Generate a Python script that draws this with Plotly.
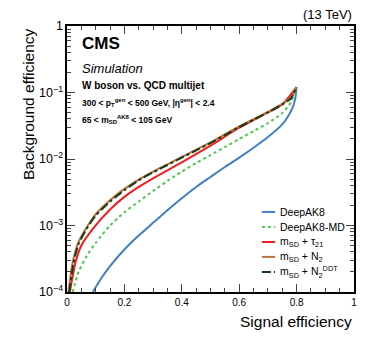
import plotly.graph_objects as go

# signal efficiency / background efficiency
deepak8_x = [0.09, 0.12, 0.15, 0.2, 0.25, 0.3, 0.35, 0.4, 0.45, 0.5, 0.55, 0.6, 0.65, 0.7, 0.75, 0.77, 0.785,
             0.795, 0.8]
deepak8_y = [1.0e-4, 1.622e-4, 2.455e-4, 4.365e-4, 7.079e-4, 1.096e-3, 1.698e-3, 2.570e-3, 3.802e-3, 5.370e-3,
             7.586e-3, 1.047e-2, 1.479e-2, 2.138e-2, 3.311e-2, 4.365e-2, 5.754e-2, 7.943e-2, 0.1202]

deepak8md_x = [0.02, 0.04, 0.07, 0.1, 0.15, 0.2, 0.25, 0.3, 0.35, 0.4, 0.45, 0.5, 0.55, 0.6, 0.65, 0.7, 0.75,
               0.78, 0.8]
deepak8md_y = [1.0e-4, 1.995e-4, 3.548e-4, 5.495e-4, 1.0e-3, 1.585e-3, 2.291e-3, 3.311e-3, 4.677e-3, 6.457e-3,
               8.710e-3, 1.148e-2, 1.514e-2, 1.995e-2, 2.630e-2, 3.467e-2, 4.898e-2, 7.079e-2, 0.1202]

tau21_x = [0.01, 0.03, 0.05, 0.09, 0.15, 0.2, 0.25, 0.3, 0.35, 0.4, 0.5, 0.6, 0.7, 0.75, 0.8]
tau21_y = [1.0e-4, 2.818e-4, 5.012e-4, 8.913e-4, 1.738e-3, 2.692e-3, 3.802e-3, 5.129e-3, 6.761e-3, 8.913e-3,
           1.585e-2, 2.951e-2, 5.012e-2, 6.607e-2, 0.1202]

n2_x = [0.005, 0.02, 0.04, 0.07, 0.1, 0.15, 0.2, 0.25, 0.3, 0.35, 0.4, 0.45, 0.5, 0.55, 0.6, 0.65, 0.7, 0.75,
        0.78, 0.8]
n2_y = [1.0e-4, 2.818e-4, 5.623e-4, 9.550e-4, 1.479e-3, 2.399e-3, 3.548e-3, 4.898e-3, 6.457e-3, 8.318e-3,
        1.072e-2, 1.380e-2, 1.778e-2, 2.344e-2, 3.090e-2, 3.981e-2, 5.129e-2, 6.761e-2, 8.318e-2, 0.1202]

n2ddt_x = [0.008, 0.022, 0.04, 0.07, 0.1, 0.15, 0.2, 0.25, 0.3, 0.35, 0.4, 0.45, 0.5, 0.55, 0.6, 0.65, 0.7,
           0.75, 0.78, 0.8]
n2ddt_y = [1.0e-4, 2.630e-4, 5.248e-4, 9.120e-4, 1.413e-3, 2.291e-3, 3.388e-3, 4.786e-3, 6.310e-3, 8.128e-3,
           1.047e-2, 1.349e-2, 1.738e-2, 2.291e-2, 3.020e-2, 3.890e-2, 5.012e-2, 6.607e-2, 8.128e-2, 0.1202]

labels = ["DeepAK8", "DeepAK8-MD", "m<sub>SD</sub> + τ<sub>21</sub>", "m<sub>SD</sub> + N<sub>2</sub>",
          "m<sub>SD</sub> + N<sub>2</sub><sup>DDT</sup>"]
colors = ["#3d80c3", "#4cc84c", "#f01e1e", "#b8703c", "#173d17"]
dashes = ["solid", "dot", "solid", "solid", "dashdot"]

FONT = "Liberation Sans, Arial, sans-serif"

fig = go.Figure()
series = [(deepak8_x, deepak8_y), (deepak8md_x, deepak8md_y), (tau21_x, tau21_y), (n2_x, n2_y), (n2ddt_x, n2ddt_y)]
for (xs, ys), name, c, d in zip(series, labels, colors, dashes):
    fig.add_trace(go.Scatter(x=xs, y=ys, mode='lines', name=name, showlegend=False,
                             line=dict(color=c, dash=d, width=2, shape='spline', smoothing=0.6)))

# legend drawn by hand (short line samples like ROOT)
leg_y = [0.301, 0.244, 0.188, 0.132, 0.075]
for ly, name, c, d in zip(leg_y, labels, colors, dashes):
    fig.add_shape(type='line', xref='paper', yref='paper', x0=0.679, x1=0.725, y0=ly, y1=ly,
                  line=dict(color=c, dash=d, width=2))
    fig.add_annotation(xref='paper', yref='paper', x=0.735, y=ly, text=name, showarrow=False,
                       xanchor='left', yanchor='middle', font=dict(size=10.5, color='black', family=FONT))

# CMS labels
fig.add_annotation(xref='paper', yref='paper', x=0.045, y=0.935, text="<b>CMS</b>", showarrow=False,
                   xanchor='left', yanchor='middle', font=dict(size=17, color='black', family=FONT))
fig.add_annotation(xref='paper', yref='paper', x=0.045, y=0.842, text="<i>Simulation</i>", showarrow=False,
                   xanchor='left', yanchor='middle', font=dict(size=13, color='black', family=FONT))
fig.add_annotation(xref='paper', yref='paper', x=0.045, y=0.778, text="<b>W boson vs. QCD multijet</b>",
                   showarrow=False, xanchor='left', yanchor='middle', font=dict(size=10, color='black', family=FONT))
fig.add_annotation(xref='paper', yref='paper', x=0.045, y=0.712,
                   text="<b>300 < p<sub>T</sub><sup>gen</sup> < 500 GeV, |η<sup>gen</sup>| < 2.4</b>",
                   showarrow=False, xanchor='left', yanchor='middle', font=dict(size=8.5, color='black', family=FONT))
fig.add_annotation(xref='paper', yref='paper', x=0.045, y=0.648,
                   text="<b>65 < m<sub>SD</sub><sup>AK8</sup> < 105 GeV</b>",
                   showarrow=False, xanchor='left', yanchor='middle', font=dict(size=8.5, color='black', family=FONT))
fig.add_annotation(xref='paper', yref='paper', x=1.0, y=1.0, yshift=2, text="(13 TeV)", showarrow=False,
                   xanchor='right', yanchor='bottom', font=dict(size=13, color='black', family=FONT))

# axis titles, ROOT style (aligned to the axis end)
fig.add_annotation(xref='paper', yref='paper', x=1.0, y=0, yshift=-19, text="Signal efficiency", showarrow=False,
                   xanchor='right', yanchor='top', font=dict(size=15.5, color='black', family=FONT))
fig.add_annotation(xref='paper', yref='paper', x=0, xshift=-39, y=1.0, text="Background efficiency",
                   showarrow=False, textangle=-90, xanchor='center', yanchor='top',
                   font=dict(size=15.5, color='black', family=FONT))

# page body has an 8px margin, so the figure is 8px smaller than the window
fig.update_layout(
    width=366, height=335,
    margin=dict(l=59, r=20, t=18, b=51),
    paper_bgcolor='white', plot_bgcolor='white',
    font=dict(family=FONT, size=10, color='black'),
    xaxis=dict(range=[0, 1], dtick=0.2, tickformat='.1~f', ticks='inside', ticklen=8, tickwidth=1,
               showline=True, linecolor='black', linewidth=2, mirror='allticks', showgrid=False,
               zeroline=False, automargin=False,
               minor=dict(dtick=0.05, ticks='inside', ticklen=4, showgrid=False),
               tickfont=dict(size=10)),
    yaxis=dict(type='log', range=[-4, 0], dtick=1, exponentformat='power', ticks='inside', ticklen=8,
               tickwidth=1, showline=True, linecolor='black', linewidth=2, mirror='allticks',
               showgrid=False, zeroline=False, automargin=False,
               minor=dict(ticks='inside', ticklen=4, showgrid=False), tickfont=dict(size=10)),
)

fig.write_html("out.html")
